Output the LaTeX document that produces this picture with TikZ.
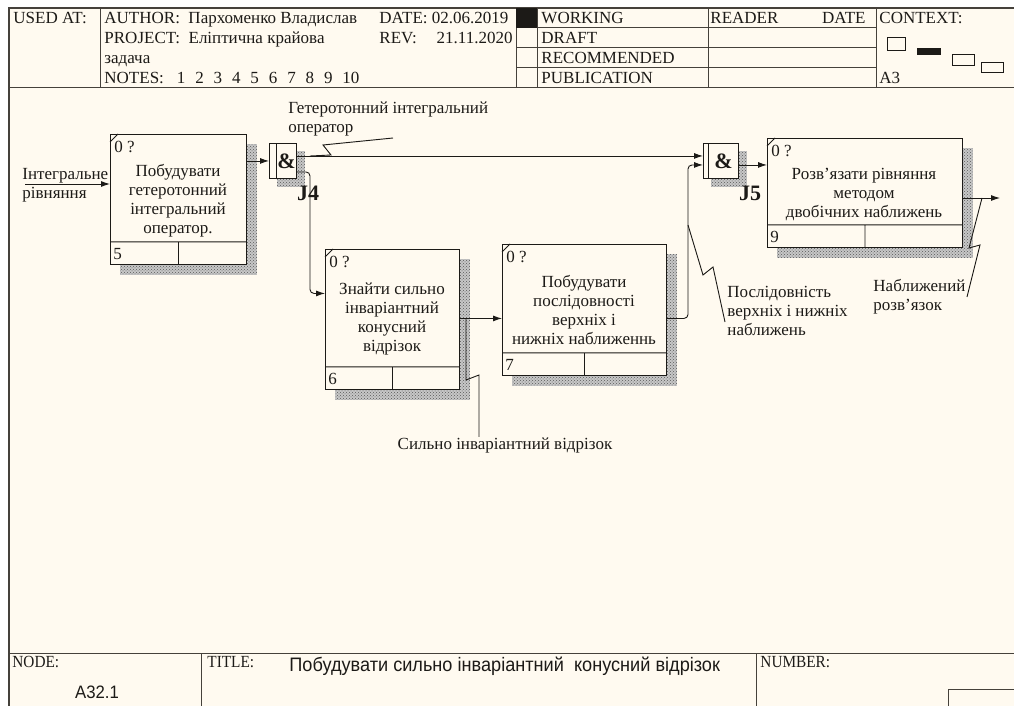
\documentclass[tikz,border=0pt]{standalone}
\usepackage{fontspec}
\setmainfont{Liberation Serif}
\newfontfamily\narrowsans[FakeStretch=0.93]{Liberation Sans}
\newfontfamily\narrowserif[FakeStretch=0.9]{Liberation Serif}
\usetikzlibrary{arrows.meta, patterns, backgrounds}
\definecolor{idefpaper}{HTML}{FFFAF0}
\definecolor{idefink}{HTML}{1C1A17}
\definecolor{idefgrid}{HTML}{45413B}

\begin{document}
\begin{tikzpicture}[
    x=1pt, y=-1pt,
    font=\fontsize{17}{19}\selectfont,
    color=idefink, line width=0.9pt,
    act/.style={draw, fill=idefpaper, anchor=north west, inner sep=0pt},
    junc/.style={draw, fill=idefpaper, anchor=north west, inner sep=0pt, minimum height=35pt},
    actxt/.style={align=center, inner sep=0pt},
    lbl/.style={align=left, inner sep=0pt},
    hdr/.style={anchor=base west, inner sep=0pt, font=\fontsize{17}{20}\selectfont},
    foot/.style={anchor=base west, inner sep=0pt, font=\narrowserif\fontsize{17}{17}\selectfont},
    jlbl/.style={font=\fontsize{22}{22}\bfseries\selectfont, inner sep=0pt},
    shade/.style={fill=black!22, postaction={pattern=crosshatch dots, pattern color=black!65}},
    arr/.style={-{Latex[length=9pt, width=6pt]}},
    grid/.style={draw=idefgrid, line width=1pt}
  ]
    \useasboundingbox (0,0) rectangle (1014,706);

    % frame and header
    \draw[grid, line width=1.4pt] (1014,8) -- (9,8) -- (9,706);
    \draw[grid] (9,88) -- (1014,88) (9,653) -- (1014,653);
    \foreach \x in {100,516,537,708,876} \draw[grid] (\x,8) -- (\x,88);
    \foreach \y in {28,48,68} \draw[grid] (516,\y) -- (876,\y);
    \fill (516,8) rectangle (537,28);
    \draw[grid] (201,653) -- (201,706) (756,653) -- (756,706);
    \draw[grid] (1014,689) -- (948,689) -- (948,706);

    \node[hdr] (h-used) at (13,24) {USED AT:};
    \node[hdr] (h-author) at (104,24) {AUTHOR:\ \ Пархоменко Владислав};
    \node[hdr] (h-project) at (104,44) {PROJECT:\ \ Еліптична крайова};
    \node[hdr] (h-task) at (104,64) {задача};
    \node[hdr] (h-notes) at (104,84) {NOTES:};
    \foreach \n [count=\i] in {1,...,10}
      \node[hdr] (h-note\n) at (158+18.4*\i,84) {\n};
    \node[hdr] (h-date) at (379,24) {DATE: 02.06.2019};
    \node[hdr] (h-rev) at (379,44) {REV:};
    \node[hdr, anchor=base east] (h-revval) at (513,44) {21.11.2020};
    \node[hdr] (h-working) at (541,24) {WORKING};
    \node[hdr] (h-draft) at (541,44) {DRAFT};
    \node[hdr] (h-recom) at (541,64) {RECOMMENDED};
    \node[hdr] (h-public) at (541,84) {PUBLICATION};
    \node[hdr] (h-reader) at (710,24) {READER};
    \node[hdr, anchor=base east] (h-rdate) at (866,24) {DATE};
    \node[hdr] (h-context) at (879,24) {CONTEXT:};
    \node[hdr] (h-a3) at (879,84) {A3};
    \draw[line width=0.8pt] (887,37) rectangle (905,50) (952,54) rectangle (974,65)
      (981,62) rectangle (1003,72);
    \fill (917,48) rectangle (941,55);

    % footer
    \node[foot] (f-node) at (12,667) {NODE:};
    \node[foot] (f-title) at (207,667) {TITLE:};
    \node[foot] (f-number) at (760,667) {NUMBER:};
    \node[inner sep=0pt, font=\narrowsans\fontsize{18}{18}\selectfont] (f-a) at (97,692) {A32.1};
    \node[anchor=base west, inner sep=0pt, font=\narrowsans\fontsize{19.5}{19.5}\selectfont] (f-name)
      at (289,671) {Побудувати сильно інваріантний\ \ конусний відрізок};

    % activity boxes
    \node[act, minimum width=136pt, minimum height=130pt] (b5) at (110,134) {};
    \node[act, minimum width=134pt, minimum height=140pt] (b6) at (325,249) {};
    \node[act, minimum width=164pt, minimum height=131pt] (b7) at (502,244) {};
    \node[act, minimum width=195pt, minimum height=109pt] (b9) at (767,138) {};
    \foreach \b/\n in {b5/5, b6/6, b7/7, b9/9} {
      \draw ([yshift=23pt]\b.south west) -- ([yshift=23pt]\b.south east)
            (\b.south) -- ([yshift=23pt]\b.south)
            ([yshift=-8pt]\b.north west) -- ([xshift=8pt]\b.north west);
      \node[anchor=base west, inner sep=0pt] (\b-id) at ([shift={(4pt,-18pt)}]\b.north west) {0 ?};
      \node[anchor=base west, inner sep=0pt] (\b-no) at ([shift={(3pt,5pt)}]\b.south west) {\n};
    }
    \node[actxt] (t5) at (178,201) {Побудувати\\гетеротонний\\інтегральний\\оператор.};
    \node[actxt] (t6) at (392,319) {Знайти сильно\\інваріантний\\конусний\\відрізок};
    \node[actxt] (t7) at (584,310) {Побудувати\\послідовності\\верхніх і\\нижніх наближеннь};
    \node[actxt] (t9) at (864,194) {Розв’язати рівняння\\методом\\двобічних наближень};

    % junctions
    \node[junc, minimum width=27pt] (j4) at (269,143) {};
    \node[junc, minimum width=35pt] (j5) at (703,143) {};
    \draw ([xshift=7pt]j4.north west) -- ([xshift=7pt]j4.south west)
          ([xshift=5pt]j5.north west) -- ([xshift=5pt]j5.south west);
    \node[jlbl] (j4-amp) at ([xshift=3.5pt]j4.center) {\&};
    \node[jlbl] (j5-amp) at ([xshift=2.5pt]j5.center) {\&};
    \node[jlbl] (j4-id) at (308,193) {J4};
    \node[jlbl] (j5-id) at (750,193) {J5};

    % arrows
    \coordinate (in5) at (25,184);
    \draw[arr] (in5) -- (in5 -| b5.west);
    \node[lbl, anchor=west] (in5-lbl) at (22,185) {Інтегральне\\рівняння};
    \draw[arr] (b5.east |- j4.center) -- (j4.west);
    \draw[arr] ([yshift=5pt]j4.east) -- ([yshift=5pt]j5.west);
    \draw[arr, rounded corners=4pt] ([yshift=-11pt]j4.east) -| ([shift={(-15pt,26pt)}]b6.west)
      -- ([yshift=26pt]b6.west);
    \coordinate (o6) at ([yshift=1pt]b6.east);
    \draw[arr] (o6) -- (o6 -| b7.west);
    \draw[arr, rounded corners=4pt] ([yshift=-8.5pt]b7.east) -| ([shift={(-15pt,-4pt)}]j5.west)
      -- ([yshift=-4pt]j5.west);
    \coordinate (o5) at ([yshift=-4pt]j5.east);
    \draw[arr] (o5) -- (o5 -| b9.west);
    \coordinate (out9) at (1000,198);
    \draw[arr] (b9.east |- out9) -- (out9);

    % labels with squiggles
    \node[lbl, anchor=north west] (op-lbl) at (288,101) {Гетеротонний інтегральний\\оператор};
    \coordinate (op-s) at (310,156);
    \draw (op-s) -- ++(21,-1) -- ++(-8,-10) -- ++(70,-7);
    \node[inner sep=0pt] (lb6) at (505,445) {Сильно інваріантний відрізок};
    \coordinate (s6) at (466,318);
    \draw (s6) -- ++(0,62) -- ++(13,-5) -- (479,0 |- lb6.north);
    \node[lbl, anchor=west] (lb7) at (727,311) {Послідовність\\верхніх і нижніх\\наближень};
    \coordinate (s7) at (688,225);
    \draw (s7) -- ++(15,50) -- ++(10,-8) -- ++(12,55);
    \node[lbl, anchor=west] (lb9) at (873,297) {Наближений\\розв’язок};
    \coordinate (s9) at (982,198);
    \draw (s9) -- ++(-13,50) -- ++(11,-3) -- ++(-13,52);

    \begin{scope}[on background layer]
      \fill[white] (0,0) rectangle (1014,706);
      \fill[idefpaper] (9,8) rectangle (1014,706);
      \foreach \b in {b5,b6,b7,b9}
        \fill[shade] ([shift={(10pt,-10pt)}]\b.north west) rectangle ([shift={(10pt,-10pt)}]\b.south east);
      \foreach \j in {j4,j5}
        \fill[shade] ([shift={(8pt,-8pt)}]\j.north west) rectangle ([shift={(8pt,-8pt)}]\j.south east);
    \end{scope}
  \end{tikzpicture}
\end{document}
